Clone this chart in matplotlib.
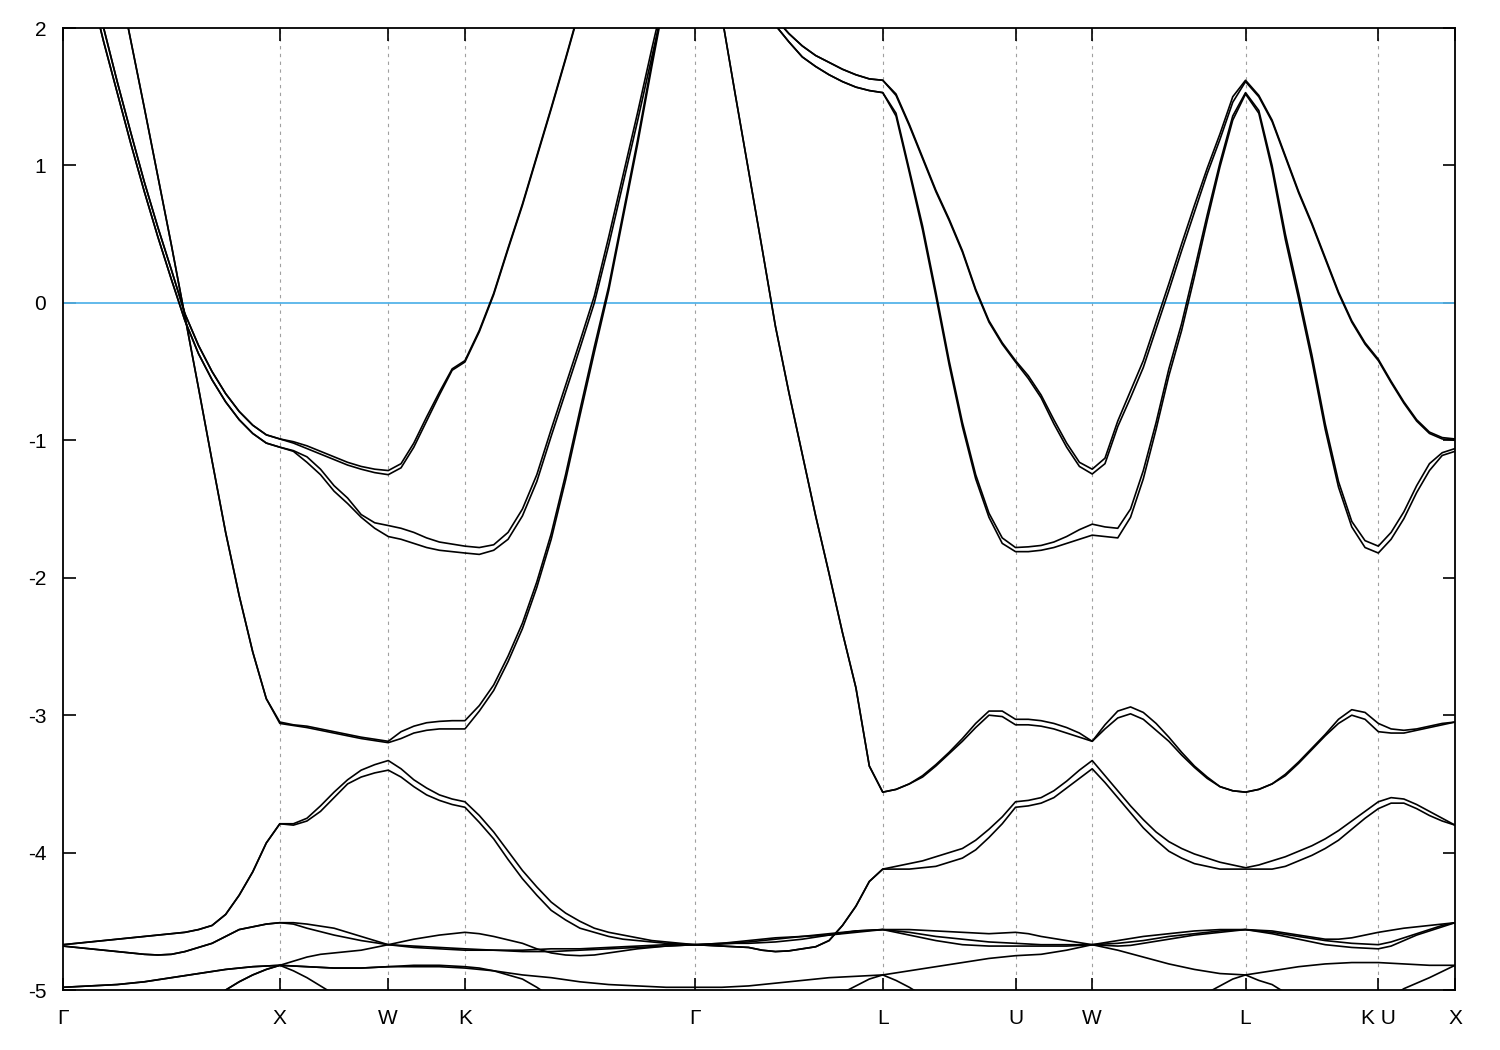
import numpy as np
import matplotlib
matplotlib.use('Agg')
import matplotlib.pyplot as plt

plt.rcParams['axes.unicode_minus'] = False

# caminho no espaco k (unidades 2pi/a) e pontos por segmento
rotulos = ['Γ', 'X', 'W', 'K', 'Γ', 'L', 'U', 'W', 'L', 'K U', 'X']
seg_len = [1.0, 0.5, 0.3536, 1.0607, 0.8660, 0.6124, 0.3536, 0.7071, 0.6124, 0.3536]
seg_n = [16, 8, 6, 16, 14, 10, 6, 12, 10, 6]

# bandas (eV) lidas do grafico
# ordem: G-X | X-W | W-K | K-G | G-L | L-U | U-W | W-L | L-K | U-X
P1a = [3.3, 2.85, 2.4, 2.0, 1.61, 1.24, 0.88, 0.55, 0.24, -0.08, -0.31, -0.50, -0.66, -0.79, -0.89, -0.96, -0.99,
       -1.01, -1.04, -1.08, -1.12, -1.16, -1.19, -1.21, -1.22,
       -1.17, -1.02, -0.83, -0.65, -0.48, -0.42,
       -0.20, 0.07, 0.40, 0.72, 1.07, 1.42, 1.78, 2.15, 2.5, 2.8, 3.05, 3.3, 3.5, 3.7, 3.82, 3.9,
       2.9, 2.6, 2.45, 2.3, 2.18, 2.07, 1.96, 1.87, 1.80, 1.75, 1.70, 1.66, 1.63, 1.62,
       1.52, 1.30, 1.06, 0.82, 0.61, 0.38, 0.10, -0.13, -0.29, -0.42,
       -0.53, -0.67, -0.85, -1.02, -1.16, -1.21,
       -1.13, -0.86, -0.64, -0.42, -0.14, 0.14, 0.43, 0.71, 0.98, 1.23, 1.50, 1.62,
       1.51, 1.33, 1.07, 0.81, 0.58, 0.33, 0.08, -0.13, -0.29, -0.41,
       -0.57, -0.72, -0.85, -0.94, -0.98, -0.99]
P1b = [3.3, 2.85, 2.4, 2.0, 1.61, 1.24, 0.88, 0.55, 0.24, -0.08, -0.31, -0.50, -0.66, -0.79, -0.89, -0.96, -0.99,
       -1.02, -1.06, -1.10, -1.14, -1.18, -1.21, -1.235, -1.25,
       -1.20, -1.05, -0.86, -0.67, -0.49, -0.43,
       -0.21, 0.06, 0.39, 0.71, 1.06, 1.41, 1.77, 2.14, 2.5, 2.8, 3.05, 3.3, 3.5, 3.7, 3.82, 3.9,
       2.9, 2.6, 2.45, 2.3, 2.18, 2.07, 1.96, 1.87, 1.80, 1.75, 1.70, 1.66, 1.63, 1.62,
       1.51, 1.29, 1.05, 0.81, 0.60, 0.37, 0.09, -0.14, -0.30, -0.43,
       -0.55, -0.69, -0.88, -1.05, -1.19, -1.245,
       -1.17, -0.90, -0.69, -0.47, -0.19, 0.09, 0.38, 0.66, 0.94, 1.19, 1.46, 1.61,
       1.50, 1.32, 1.06, 0.80, 0.57, 0.32, 0.07, -0.14, -0.30, -0.42,
       -0.58, -0.73, -0.86, -0.95, -0.99, -1.00]
P2a = [3.2, 2.75, 2.3, 1.9, 1.53, 1.16, 0.81, 0.48, 0.17, -0.13, -0.37, -0.56, -0.72, -0.85, -0.95, -1.02, -1.05,
       -1.075, -1.12, -1.21, -1.33, -1.42, -1.54, -1.60, -1.62,
       -1.64, -1.67, -1.71, -1.74, -1.755, -1.77,
       -1.78, -1.76, -1.67, -1.50, -1.25, -0.92, -0.60, -0.28, 0.05, 0.48, 0.93, 1.38, 1.85, 2.3, 3.0, 3.9,
       2.8, 2.5, 2.37, 2.25, 2.13, 2.02, 1.90, 1.79, 1.72, 1.66, 1.61, 1.57, 1.545, 1.53,
       1.38, 0.97, 0.56, 0.08, -0.42, -0.87, -1.25, -1.53, -1.71, -1.78,
       -1.775, -1.765, -1.74, -1.70, -1.65, -1.61,
       -1.63, -1.64, -1.50, -1.22, -0.87, -0.48, -0.15, 0.24, 0.64, 1.02, 1.36, 1.53,
       1.40, 1.00, 0.50, 0.07, -0.38, -0.88, -1.30, -1.59, -1.73, -1.77,
       -1.67, -1.52, -1.33, -1.17, -1.09, -1.06]
P2b = [3.2, 2.75, 2.3, 1.9, 1.53, 1.16, 0.81, 0.48, 0.17, -0.13, -0.37, -0.56, -0.72, -0.85, -0.95, -1.02, -1.05,
       -1.08, -1.16, -1.25, -1.37, -1.46, -1.56, -1.64, -1.70,
       -1.72, -1.75, -1.78, -1.80, -1.81, -1.82,
       -1.83, -1.80, -1.72, -1.55, -1.30, -0.97, -0.65, -0.33, 0.0, 0.42, 0.87, 1.32, 1.79, 2.25, 3.0, 3.9,
       2.8, 2.5, 2.37, 2.25, 2.13, 2.02, 1.90, 1.79, 1.72, 1.66, 1.61, 1.57, 1.545, 1.53,
       1.36, 0.95, 0.53, 0.05, -0.45, -0.90, -1.28, -1.56, -1.75, -1.81,
       -1.81, -1.80, -1.78, -1.75, -1.72, -1.69,
       -1.70, -1.71, -1.56, -1.28, -0.92, -0.53, -0.20, 0.19, 0.60, 0.99, 1.33, 1.52,
       1.38, 0.97, 0.46, 0.03, -0.42, -0.92, -1.34, -1.63, -1.78, -1.82,
       -1.72, -1.57, -1.38, -1.22, -1.11, -1.08]
S1 = [3.9, 3.6, 3.3, 2.85, 2.4, 1.91, 1.42, 0.92, 0.42, -0.10, -0.62, -1.15, -1.67, -2.13, -2.54, -2.88, -3.05,
      -3.07, -3.08, -3.10, -3.12, -3.14, -3.16, -3.175, -3.19,
      -3.12, -3.08, -3.055, -3.045, -3.04, -3.04,
      -2.93, -2.78, -2.57, -2.33, -2.03, -1.68, -1.25, -0.78, -0.32, 0.12, 0.65, 1.18, 1.75, 2.3, 3.0, 3.9,
      2.7, 2.09, 1.52, 0.96, 0.40, -0.17, -0.65, -1.10, -1.55, -1.97, -2.40, -2.80, -3.37, -3.56,
      -3.54, -3.50, -3.44, -3.36, -3.27, -3.17, -3.06, -2.97, -2.97, -3.03,
      -3.03, -3.04, -3.06, -3.09, -3.13, -3.19,
      -3.07, -2.97, -2.94, -2.98, -3.06, -3.16, -3.27, -3.37, -3.45, -3.52, -3.55, -3.56,
      -3.54, -3.50, -3.43, -3.34, -3.24, -3.14, -3.03, -2.96, -2.98, -3.06,
      -3.10, -3.11, -3.10, -3.08, -3.06, -3.05]
S2 = [3.9, 3.6, 3.3, 2.85, 2.4, 1.91, 1.42, 0.92, 0.42, -0.10, -0.62, -1.15, -1.67, -2.13, -2.54, -2.88, -3.06,
      -3.075, -3.09, -3.11, -3.13, -3.15, -3.17, -3.185, -3.20,
      -3.17, -3.13, -3.11, -3.10, -3.10, -3.10,
      -2.97, -2.82, -2.61, -2.37, -2.07, -1.72, -1.29, -0.82, -0.36, 0.09, 0.62, 1.15, 1.72, 2.27, 3.0, 3.9,
      2.7, 2.09, 1.52, 0.96, 0.40, -0.17, -0.65, -1.10, -1.55, -1.97, -2.40, -2.80, -3.37, -3.56,
      -3.54, -3.50, -3.45, -3.37, -3.28, -3.19, -3.09, -3.00, -3.01, -3.07,
      -3.07, -3.08, -3.10, -3.13, -3.16, -3.19,
      -3.10, -3.02, -2.99, -3.03, -3.11, -3.19, -3.29, -3.38, -3.46, -3.52, -3.55, -3.56,
      -3.54, -3.50, -3.44, -3.35, -3.25, -3.15, -3.06, -3.00, -3.03, -3.12,
      -3.13, -3.13, -3.11, -3.09, -3.07, -3.05]
D1a = [-4.67, -4.66, -4.65, -4.64, -4.63, -4.62, -4.61, -4.60, -4.59, -4.58, -4.56, -4.53, -4.45, -4.31, -4.14, -3.93, -3.79,
       -3.79, -3.75, -3.66, -3.56, -3.47, -3.40, -3.36, -3.33,
       -3.39, -3.47, -3.53, -3.58, -3.61, -3.63,
       -3.73, -3.85, -3.99, -4.13, -4.25, -4.36, -4.44, -4.50, -4.55, -4.58, -4.60, -4.62, -4.64, -4.65, -4.66, -4.67,
       -4.675, -4.68, -4.685, -4.69, -4.71, -4.72, -4.715, -4.70, -4.685, -4.64, -4.53, -4.39, -4.21, -4.12,
       -4.10, -4.08, -4.06, -4.03, -4.00, -3.97, -3.91, -3.83, -3.74, -3.63,
       -3.62, -3.60, -3.55, -3.48, -3.40, -3.33,
       -3.44, -3.55, -3.66, -3.76, -3.85, -3.92, -3.97, -4.01, -4.04, -4.07, -4.09, -4.11,
       -4.09, -4.06, -4.03, -3.99, -3.95, -3.90, -3.84, -3.77, -3.70, -3.63,
       -3.60, -3.61, -3.65, -3.70, -3.75, -3.80]
D1b = [-4.67, -4.66, -4.65, -4.64, -4.63, -4.62, -4.61, -4.60, -4.59, -4.58, -4.56, -4.53, -4.45, -4.31, -4.14, -3.93, -3.79,
       -3.80, -3.77, -3.70, -3.60, -3.50, -3.45, -3.42, -3.40,
       -3.45, -3.52, -3.58, -3.62, -3.65, -3.67,
       -3.78, -3.90, -4.05, -4.19, -4.31, -4.42, -4.49, -4.55, -4.58, -4.61, -4.63, -4.64, -4.65, -4.66, -4.665, -4.67,
       -4.675, -4.68, -4.685, -4.69, -4.71, -4.72, -4.715, -4.70, -4.685, -4.64, -4.53, -4.39, -4.21, -4.12,
       -4.12, -4.12, -4.11, -4.10, -4.07, -4.04, -3.98, -3.89, -3.79, -3.67,
       -3.66, -3.64, -3.60, -3.53, -3.46, -3.39,
       -3.49, -3.60, -3.71, -3.82, -3.91, -3.99, -4.04, -4.08, -4.10, -4.12, -4.12, -4.12,
       -4.12, -4.12, -4.10, -4.06, -4.02, -3.97, -3.91, -3.83, -3.75, -3.68,
       -3.64, -3.64, -3.68, -3.73, -3.77, -3.80]
Lo1 = [-4.68, -4.69, -4.70, -4.71, -4.72, -4.73, -4.74, -4.745, -4.74, -4.72, -4.69, -4.66, -4.61, -4.56, -4.54, -4.52, -4.51,
       -4.51, -4.52, -4.535, -4.55, -4.58, -4.61, -4.64, -4.67,
       -4.65, -4.63, -4.615, -4.60, -4.59, -4.58,
       -4.59, -4.61, -4.635, -4.66, -4.70, -4.73, -4.745, -4.75, -4.745, -4.73, -4.715, -4.70, -4.69, -4.68, -4.675, -4.67,
       -4.665, -4.66, -4.655, -4.65, -4.64, -4.63, -4.62, -4.61, -4.60, -4.59, -4.58, -4.57, -4.565, -4.56,
       -4.56, -4.56, -4.565, -4.57, -4.575, -4.58, -4.585, -4.59, -4.585, -4.58,
       -4.59, -4.61, -4.625, -4.64, -4.655, -4.67,
       -4.655, -4.64, -4.625, -4.61, -4.60, -4.59, -4.58, -4.57, -4.565, -4.56, -4.56, -4.56,
       -4.565, -4.57, -4.585, -4.60, -4.615, -4.63, -4.63, -4.62, -4.60, -4.58,
       -4.565, -4.55, -4.54, -4.53, -4.52, -4.51]
Lo2 = [-4.68, -4.69, -4.70, -4.71, -4.72, -4.73, -4.74, -4.745, -4.74, -4.72, -4.69, -4.66, -4.61, -4.56, -4.54, -4.52, -4.51,
       -4.52, -4.55, -4.575, -4.60, -4.62, -4.64, -4.655, -4.67,
       -4.675, -4.68, -4.685, -4.69, -4.695, -4.70,
       -4.705, -4.71, -4.715, -4.72, -4.72, -4.72, -4.715, -4.71, -4.705, -4.70, -4.695, -4.69, -4.685, -4.68, -4.675, -4.67,
       -4.67, -4.665, -4.66, -4.66, -4.655, -4.65, -4.64, -4.63, -4.615, -4.60, -4.585, -4.57, -4.565, -4.56,
       -4.57, -4.58, -4.595, -4.61, -4.62, -4.63, -4.64, -4.65, -4.655, -4.66,
       -4.665, -4.67, -4.67, -4.67, -4.67, -4.67,
       -4.675, -4.68, -4.675, -4.66, -4.645, -4.63, -4.615, -4.60, -4.59, -4.58, -4.57, -4.56,
       -4.57, -4.58, -4.595, -4.61, -4.625, -4.64, -4.65, -4.66, -4.665, -4.67,
       -4.65, -4.62, -4.59, -4.56, -4.53, -4.51]
Lo3 = [-4.98, -4.975, -4.97, -4.965, -4.96, -4.95, -4.94, -4.925, -4.91, -4.895, -4.88, -4.865, -4.85, -4.84, -4.83, -4.825, -4.82,
       -4.79, -4.76, -4.74, -4.73, -4.72, -4.71, -4.69, -4.67,
       -4.68, -4.69, -4.695, -4.70, -4.705, -4.71,
       -4.71, -4.71, -4.71, -4.71, -4.705, -4.70, -4.70, -4.70, -4.695, -4.69, -4.685, -4.68, -4.675, -4.67, -4.67, -4.67,
       -4.665, -4.66, -4.65, -4.64, -4.63, -4.62, -4.615, -4.61, -4.605, -4.60, -4.59, -4.58, -4.57, -4.56,
       -4.58, -4.60, -4.62, -4.64, -4.655, -4.67, -4.675, -4.68, -4.68, -4.68,
       -4.68, -4.68, -4.68, -4.68, -4.675, -4.67,
       -4.665, -4.66, -4.65, -4.64, -4.625, -4.61, -4.60, -4.59, -4.58, -4.57, -4.565, -4.56,
       -4.575, -4.59, -4.61, -4.63, -4.65, -4.67, -4.68, -4.69, -4.695, -4.70,
       -4.68, -4.64, -4.60, -4.57, -4.54, -4.51]
Lo4 = [-5.6, -5.6, -5.55, -5.55, -5.5, -5.45, -5.4, -5.35, -5.3, -5.22, -5.15, -5.08, -5.0, -4.94, -4.89, -4.85, -4.82,
       -4.825, -4.83, -4.835, -4.84, -4.84, -4.84, -4.835, -4.83,
       -4.83, -4.83, -4.83, -4.83, -4.835, -4.84,
       -4.85, -4.86, -4.875, -4.89, -4.90, -4.91, -4.925, -4.94, -4.95, -4.96, -4.965, -4.97, -4.975, -4.98, -4.98, -4.98,
       -4.98, -4.98, -4.975, -4.97, -4.96, -4.95, -4.94, -4.93, -4.92, -4.91, -4.905, -4.90, -4.895, -4.89,
       -4.875, -4.86, -4.845, -4.83, -4.815, -4.80, -4.785, -4.77, -4.76, -4.75,
       -4.745, -4.74, -4.725, -4.71, -4.69, -4.67,
       -4.69, -4.71, -4.735, -4.76, -4.785, -4.81, -4.83, -4.85, -4.865, -4.88, -4.885, -4.89,
       -4.875, -4.86, -4.845, -4.83, -4.82, -4.81, -4.805, -4.80, -4.80, -4.80,
       -4.805, -4.81, -4.815, -4.82, -4.82, -4.82]
Lo5 = [-4.98, -4.975, -4.97, -4.965, -4.96, -4.95, -4.94, -4.925, -4.91, -4.895, -4.88, -4.865, -4.85, -4.84, -4.83, -4.825, -4.82,
       -4.86, -4.91, -4.97, -5.03, -5.12, -5.25, -5.33, -5.4,
       -5.45, -5.5, -5.55, -5.6, -5.6, -5.6,
       -5.6, -5.6, -5.6, -5.6, -5.6, -5.6, -5.6, -5.6, -5.6, -5.6, -5.6, -5.6, -5.6, -5.6, -5.6, -5.6,
       -5.6, -5.6, -5.6, -5.6, -5.6, -5.6, -5.6, -5.5, -5.35, -5.15, -5.02, -4.97, -4.92, -4.89,
       -4.93, -4.98, -5.04, -5.12, -5.2, -5.3, -5.38, -5.45, -5.5, -5.5,
       -5.5, -5.5, -5.5, -5.5, -5.5, -5.5,
       -5.5, -5.5, -5.5, -5.5, -5.5, -5.45, -5.35, -5.2, -5.02, -4.97, -4.92, -4.89,
       -4.93, -4.96, -5.02, -5.1, -5.2, -5.3, -5.35, -5.4, -5.35, -5.1,
       -5.05, -4.99, -4.95, -4.91, -4.865, -4.82]
# esta so aparece entre Gamma e o meio de K-Gamma
Lo6 = [-5.6, -5.6, -5.55, -5.55, -5.5, -5.45, -5.4, -5.35, -5.3, -5.22, -5.15, -5.08, -5.0, -4.94, -4.89, -4.85, -4.82,
       -4.825, -4.83, -4.835, -4.84, -4.84, -4.84, -4.835, -4.83,
       -4.825, -4.82, -4.82, -4.82, -4.825, -4.83,
       -4.84, -4.86, -4.89, -4.92, -4.98, -5.05, -5.2, -5.3]

bandas = [P1a, P1b, P2a, P2b, S1, S2, D1a, D1b, Lo1, Lo2, Lo3, Lo4, Lo5, Lo6]

# grade k
nos = np.concatenate(([0.0], np.cumsum(seg_len)))
k = [0.0]
for i in range(len(seg_len)):
    k.extend(np.linspace(nos[i], nos[i + 1], seg_n[i] + 1)[1:])
k = np.array(k)

fig = plt.figure(figsize=(15, 10.5), dpi=100)
ax = fig.add_axes([0.042, 0.0571, 0.928, 0.9162])

for xv in nos[1:-1]:
    ax.axvline(xv, color='#a0a0a0', lw=0.8, ls=(0, (3, 4)), zorder=1)
ax.axhline(0, color='#56b4e9', lw=1.3, zorder=2)

for b in bandas:
    ax.plot(k[:len(b)], b, color='black', lw=1.2, zorder=3)

ax.set_xlim(nos[0], nos[-1])
ax.set_ylim(-5, 2)
ax.set_xticks(nos)
ax.set_xticklabels(rotulos)
ax.set_yticks([-5, -4, -3, -2, -1, 0, 1, 2])
ax.tick_params(direction='in', length=9, width=1.2, top=True, right=True,
               labelsize=15)
ax.tick_params(axis='x', pad=14)
ax.tick_params(axis='y', pad=12)
for t in ax.get_xticklabels() + ax.get_yticklabels():
    t.set_family('Liberation Sans')
for s in ax.spines.values():
    s.set_linewidth(1.3)

fig.savefig('out.png', dpi=100)
